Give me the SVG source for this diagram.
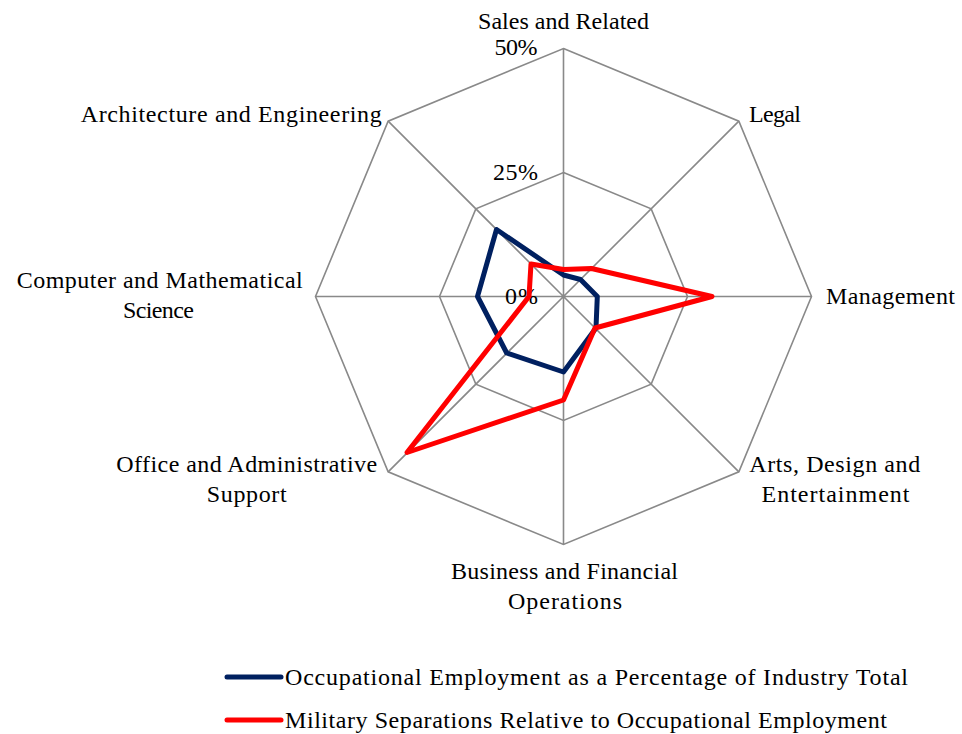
<svg xmlns="http://www.w3.org/2000/svg" width="962" height="734" viewBox="0 0 962 734">
<style>
.grid{fill:none;stroke:#898989;stroke-width:1.6}
.lbl{font-family:"Liberation Serif","Times New Roman",serif;font-size:24px;fill:#000}
.s1{fill:none;stroke:#002060;stroke-width:5;stroke-linejoin:round;stroke-linecap:round}
.s2{fill:none;stroke:#FF0000;stroke-width:5;stroke-linejoin:round;stroke-linecap:round}
</style>
<rect width="962" height="734" fill="#fff"/>
<g id="grid">
<polygon class="grid" points="563.5,48.5 738.86,121.14 811.5,296.5 738.86,471.86 563.5,544.5 388.14,471.86 315.5,296.5 388.14,121.14"/>
<polygon class="grid" points="563.5,172.5 651.18,208.82 687.5,296.5 651.18,384.18 563.5,420.5 475.82,384.18 439.5,296.5 475.82,208.82"/>
<path class="grid" d="M563.5,296.5V48.5M563.5,296.5L738.86,121.14M563.5,296.5H811.5M563.5,296.5L738.86,471.86M563.5,296.5V544.5M563.5,296.5L388.14,471.86M563.5,296.5H315.5M563.5,296.5L388.14,121.14"/>
</g>
<g id="axis-labels">
<text class="lbl" x="537.5" y="55" text-anchor="end" textLength="43">50%</text>
<text class="lbl" x="538" y="179.5" text-anchor="end" textLength="45">25%</text>
<text class="lbl" x="538" y="303.5" text-anchor="end" textLength="33">0%</text>
</g>
<g id="node-sales"><text class="lbl" x="563.5" y="29" text-anchor="middle" textLength="171">Sales and Related</text></g>
<g id="node-legal"><text class="lbl" x="749" y="121.7" textLength="52">Legal</text></g>
<g id="node-management"><text class="lbl" x="826" y="304.3" textLength="129">Management</text></g>
<g id="node-arts">
<text class="lbl" x="834.7" y="471.7" text-anchor="middle" textLength="171">Arts, Design and</text>
<text class="lbl" x="835.5" y="501.7" text-anchor="middle" textLength="148">Entertainment</text>
</g>
<g id="node-business">
<text class="lbl" x="564.5" y="578.5" text-anchor="middle" textLength="227">Business and Financial</text>
<text class="lbl" x="565" y="608.5" text-anchor="middle" textLength="114">Operations</text>
</g>
<g id="node-office">
<text class="lbl" x="246.7" y="471.7" text-anchor="middle" textLength="261">Office and Administrative</text>
<text class="lbl" x="246.7" y="501.7" text-anchor="middle" textLength="80">Support</text>
</g>
<g id="node-computer">
<text class="lbl" x="159.7" y="288.3" text-anchor="middle" textLength="286">Computer and Mathematical</text>
<text class="lbl" x="158.4" y="318.3" text-anchor="middle" textLength="71">Science</text>
</g>
<g id="node-architecture"><text class="lbl" x="381.7" y="121.7" text-anchor="end" textLength="301">Architecture and Engineering</text></g>
<g id="connectors">
<polygon class="s1" points="563.5,275 580.5,279.5 597.3,296.5 596,328 563.5,372 506.7,353 477.5,296.5 496.5,229.5"/>
<polygon class="s2" points="563.5,269.5 591.5,268.5 712,296.5 595,328 563.5,400 407,452.5 529,296.5 531,264"/>
</g>
<g id="legend">
<line class="s1" x1="227" y1="677" x2="281" y2="677"/>
<text class="lbl" x="285" y="684.5" textLength="623">Occupational Employment as a Percentage of Industry Total</text>
<line class="s2" x1="227" y1="720" x2="281" y2="720"/>
<text class="lbl" x="285" y="727.5" textLength="602">Military Separations Relative to Occupational Employment</text>
</g>
</svg>
